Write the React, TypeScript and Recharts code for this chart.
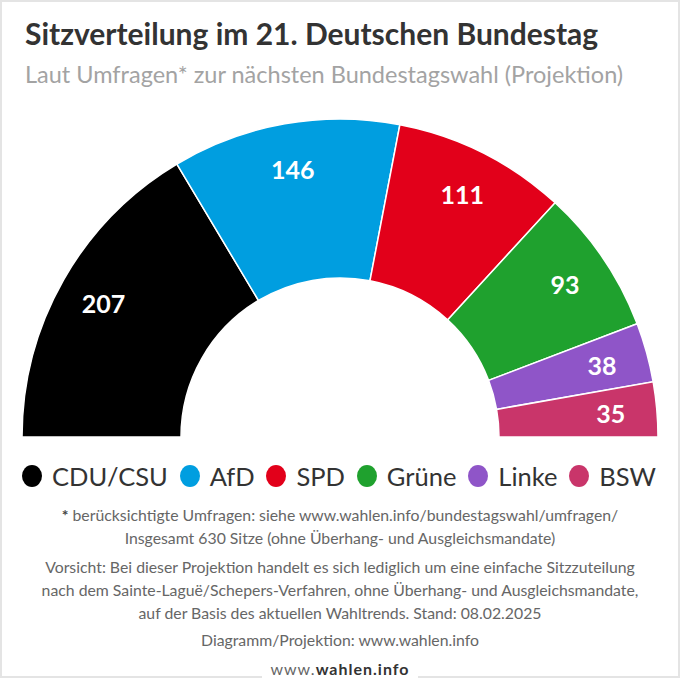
import React from "react";
import { PieChart, Pie, Cell } from "recharts";

const parties = ["CDU/CSU", "AfD", "SPD", "Grüne", "Linke", "BSW"];
const seats = [207, 146, 111, 93, 38, 35];
const colors = ["#000000", "#009ee0", "#e2001a", "#1fa12e", "#8f55c8", "#c9356a"];

const data = parties.map((name, i) => ({ name, value: seats[i] }));

const RAD = Math.PI / 180;

const renderLabel = (props: any) => {
  const { cx, cy, midAngle, innerRadius, outerRadius, value } = props;
  const r = innerRadius + (outerRadius - innerRadius) * 0.71;
  const x = cx + r * Math.cos(-midAngle * RAD);
  const y = cy + r * Math.sin(-midAngle * RAD);
  return (
    <text
      x={x}
      y={y}
      fill="#ffffff"
      textAnchor="middle"
      dominantBaseline="central"
      fontFamily="Lato"
      fontWeight={700}
      fontSize={25}
    >
      {value}
    </text>
  );
};

export default function App() {
  const font = "Lato, 'Open Sans', sans-serif";
  return (
    <div
      style={{
        position: "absolute",
        left: 0,
        top: 0,
        width: 680,
        height: 678,
        background: "#fff",
        fontFamily: font,
        overflow: "hidden",
      }}
    >
      <div
        style={{
          position: "absolute",
          left: 0,
          top: 0,
          width: 676,
          height: 674,
          border: "2px solid #e4e4e4",
        }}
      />
      <div
        style={{
          position: "absolute",
          left: 25,
          top: 15,
          fontSize: 30,
          fontWeight: 700,
          color: "#333333",
          whiteSpace: "nowrap",
        }}
      >
        Sitzverteilung im 21. Deutschen Bundestag
      </div>
      <div
        style={{
          position: "absolute",
          left: 25,
          top: 60,
          fontSize: 23.5,
          color: "#a3a3a3",
          whiteSpace: "nowrap",
        }}
      >
        Laut Umfragen* zur nächsten Bundestagswahl (Projektion)
      </div>
      <div style={{ position: "absolute", left: 0, top: 0 }}>
        <PieChart width={680} height={678} margin={{ top: 0, right: 0, bottom: 0, left: 0 }}>
          <Pie
            data={data}
            dataKey="value"
            nameKey="name"
            cx={340}
            cy={437}
            startAngle={180}
            endAngle={0}
            innerRadius={159}
            outerRadius={318}
            stroke="#ffffff"
            strokeWidth={1.5}
            label={renderLabel}
            labelLine={false}
            isAnimationActive={false}
          >
            {data.map((d, i) => (
              <Cell key={d.name} fill={colors[i]} />
            ))}
          </Pie>
        </PieChart>
      </div>
      <div
        style={{
          position: "absolute",
          left: 22,
          top: 461,
          width: 634,
          display: "flex",
          justifyContent: "space-between",
          alignItems: "center",
        }}
      >
        {parties.map((p, i) => (
          <div key={p} style={{ display: "flex", alignItems: "center" }}>
            <span
              style={{
                display: "inline-block",
                width: 20,
                height: 22,
                borderRadius: "50%",
                background: colors[i],
                marginRight: 10,
              }}
            />
            <span style={{ fontSize: 25.5, color: "#333" }}>{p}</span>
          </div>
        ))}
      </div>
      <div
        style={{
          position: "absolute",
          left: 0,
          top: 503,
          width: 680,
          textAlign: "center",
          fontSize: 15.8,
          color: "#666",
          lineHeight: "23px",
        }}
      >
        <div>
          <b style={{ color: "#444" }}>*</b> berücksichtigte Umfragen: siehe www.wahlen.info/bundestagswahl/umfragen/
        </div>
        <div>Insgesamt 630 Sitze (ohne Überhang- und Ausgleichsmandate)</div>
        <div style={{ marginTop: 6 }}>
          Vorsicht: Bei dieser Projektion handelt es sich lediglich um eine einfache Sitzzuteilung
        </div>
        <div>nach dem Sainte-Laguë/Schepers-Verfahren, ohne Überhang- und Ausgleichsmandate,</div>
        <div>auf der Basis des aktuellen Wahltrends. Stand: 08.02.2025</div>
        <div style={{ marginTop: 4 }}>Diagramm/Projektion: www.wahlen.info</div>
      </div>
      <div
        style={{
          position: "absolute",
          left: 0,
          top: 659,
          width: 680,
          textAlign: "center",
        }}
      >
        <span
          style={{
            background: "#fff",
            padding: "0 8px",
            fontSize: 16,
            color: "#666",
            letterSpacing: 1,
          }}
        >
          www.<b style={{ color: "#333" }}>wahlen.info</b>
        </span>
      </div>
    </div>
  );
}
